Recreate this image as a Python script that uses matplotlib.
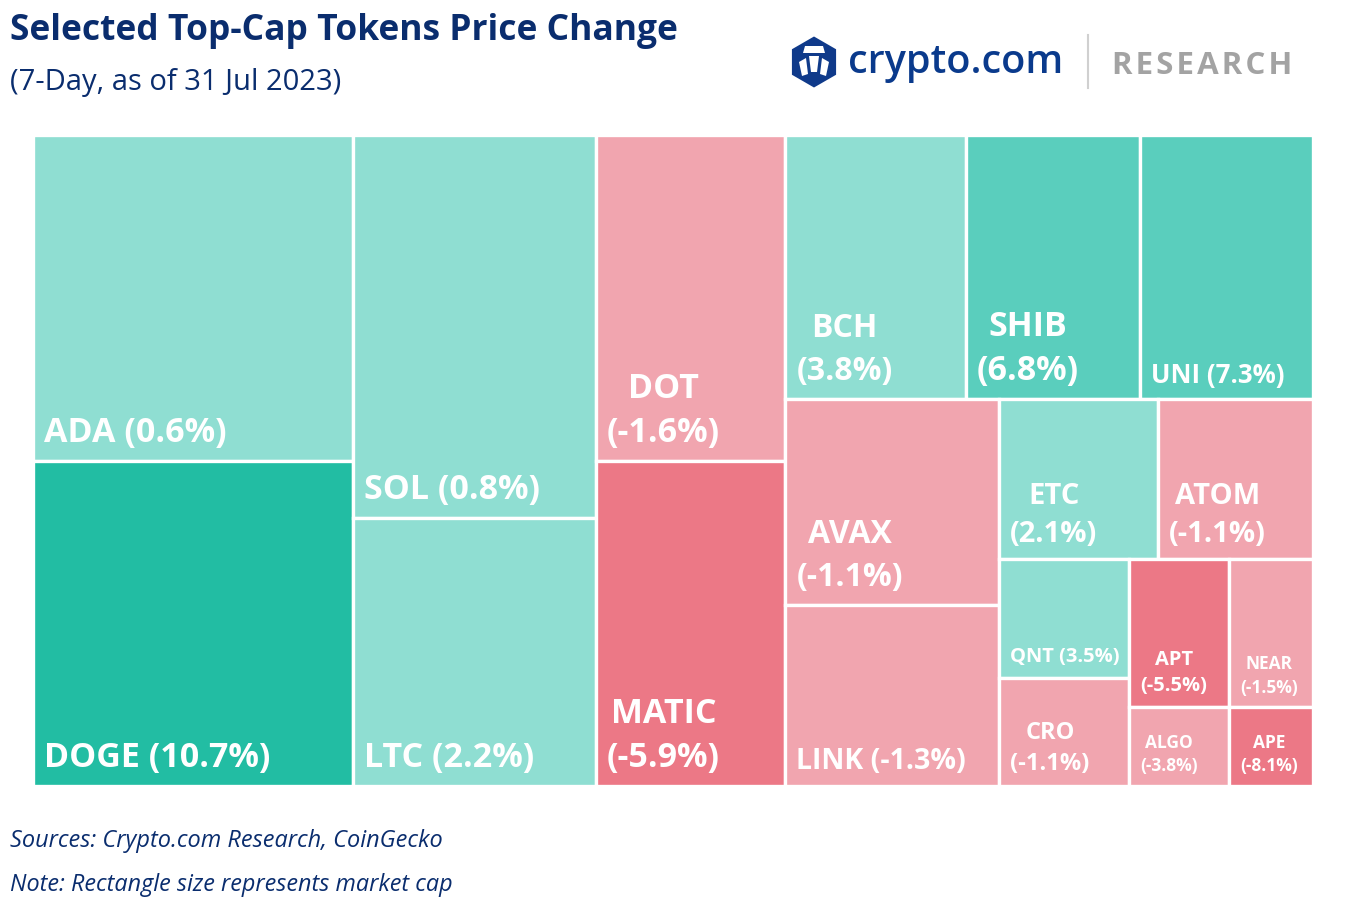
import matplotlib.pyplot as plt
from matplotlib.patches import Rectangle, RegularPolygon, Polygon

# market cap (USD bn, read from tile areas) and 7-day price change (%)
tokens = ["ADA", "DOGE", "SOL", "LTC", "DOT", "MATIC", "BCH", "SHIB", "UNI",
          "AVAX", "LINK", "ETC", "ATOM", "QNT", "CRO", "APT", "ALGO", "NEAR", "APE"]
mcap = [10.91, 10.87, 9.75, 6.82, 6.47, 6.45, 4.98, 4.82, 4.78,
        4.61, 4.05, 2.66, 2.60, 1.62, 1.47, 1.55, 0.83, 1.30, 0.69]
change = [0.6, 10.7, 0.8, 2.2, -1.6, -5.9, 3.8, 6.8, 7.3,
          -1.1, -1.3, 2.1, -1.1, 3.5, -1.1, -5.5, -3.8, -1.5, -8.1]

# nesting of the treemap (split direction alternates per level)
tree = [["ADA", "DOGE"], ["SOL", "LTC"], ["DOT", "MATIC"],
        [["BCH", "SHIB", "UNI"],
         [["AVAX", "LINK"],
          [["ETC", "ATOM"],
           [["QNT", "CRO"], ["APT", "ALGO"], ["NEAR", "APE"]]]]]]

# label styles: font size, two lines or one
label_size = {"ADA": 24.5, "DOGE": 24.5, "SOL": 24.5, "LTC": 24.5, "DOT": 24.5,
              "MATIC": 24.5, "BCH": 23, "SHIB": 24.5, "UNI": 18.5, "AVAX": 23,
              "LINK": 20.5, "ETC": 21, "ATOM": 21, "QNT": 14.5, "CRO": 17,
              "APT": 14.5, "ALGO": 12.5, "NEAR": 12.5, "APE": 12.5}
two_line = {"DOT", "MATIC", "BCH", "SHIB", "AVAX", "ETC", "ATOM", "CRO",
            "APT", "ALGO", "NEAR", "APE"}

cap = dict(zip(tokens, mcap))
chg = dict(zip(tokens, change))

navy = "#0a2d6e"


def total(node):
    if isinstance(node, str):
        return cap[node]
    return sum(total(c) for c in node)


def layout(node, x, y, w, h, horiz, out):
    if isinstance(node, str):
        out[node] = (x, y, w, h)
        return
    s = total(node)
    for c in node:
        v = total(c)
        if horiz:
            cw = w * v / s
            layout(c, x, y, cw, h, not horiz, out)
            x += cw
        else:
            ch = h * v / s
            layout(c, x, y, w, ch, not horiz, out)
            y += ch


def colour(c):
    if c >= 10:
        return "#22bda3"
    if c >= 5:
        return "#5acebd"
    if c >= 0:
        return "#8fded2"
    if c > -5:
        return "#f1a5af"
    return "#ec7886"


rects = {}
layout(tree, 0, 0, 1, 1, True, rects)

fig = plt.figure(figsize=(13.48, 9.10), dpi=100)

ax = fig.add_axes([33 / 1348, 124 / 910, 1280 / 1348, 651 / 910])
ax.set_xlim(0, 1)
ax.set_ylim(1, 0)
ax.axis("off")

for t in tokens:
    x, y, w, h = rects[t]
    ax.add_patch(Rectangle((x, y), w, h, facecolor=colour(chg[t]),
                           edgecolor="white", linewidth=2.4))
    fs = label_size[t]
    sep = "\n" if t in two_line else " "
    ax.annotate(f"{t}{sep}({chg[t]:.1f}%)", xy=(x, y + h),
                xytext=(8, 4.5 + 0.14 * fs + (1.5 if fs < 16 else 0)),
                textcoords="offset points",
                ha="left", va="bottom", multialignment="center",
                color="white", fontsize=fs, fontweight="bold",
                family="Open Sans", linespacing=1.4)

# header, logo and footer in pixel coordinates
bg = fig.add_axes([0, 0, 1, 1], zorder=-1)
bg.set_xlim(0, 1348)
bg.set_ylim(910, 0)
bg.axis("off")

bg.text(10, 40, "Selected Top-Cap Tokens Price Change", fontsize=25.5,
        fontweight="bold", family="Open Sans", color=navy, va="baseline")
bg.text(10, 90, "(7-Day, as of 31 Jul 2023)", fontsize=21,
        family="Open Sans", color=navy, va="baseline")

bg.add_patch(RegularPolygon((814, 62), numVertices=6, radius=25.5,
                            facecolor="#0f3a8a", edgecolor="none"))
bg.add_patch(Polygon([(805, 46), (823, 46), (825, 53), (803, 53)],
                     facecolor="white", edgecolor="none"))
bg.add_patch(Polygon([(809, 56), (819, 56), (817, 72), (811, 72)],
                     facecolor="white", edgecolor="none"))
bg.add_patch(Polygon([(799, 62), (806, 58), (808, 74), (802, 76)],
                     facecolor="white", edgecolor="none"))
bg.add_patch(Polygon([(829, 62), (822, 58), (820, 74), (826, 76)],
                     facecolor="white", edgecolor="none"))
bg.text(848, 73, "crypto.com", fontsize=28.5, fontweight="semibold",
        family="Open Sans", color="#0a3a8c", va="baseline")
bg.plot([1088, 1088], [35, 88], color="#d0d0d0", linewidth=1.5)
bg.text(1112, 74, "R E S E A R C H".replace(" ", "\u200a"), fontsize=22.5,
        fontweight="bold", family="Open Sans", color="#a3a3a3", va="baseline")

bg.text(10, 841, "Sources: Crypto.com Research, CoinGecko", fontsize=16.9,
        style="italic", family="Open Sans", color=navy, va="center")
bg.text(10, 885, "Note: Rectangle size represents market cap", fontsize=16.8,
        style="italic", family="Open Sans", color=navy, va="center")

fig.savefig("out.png", dpi=100)
